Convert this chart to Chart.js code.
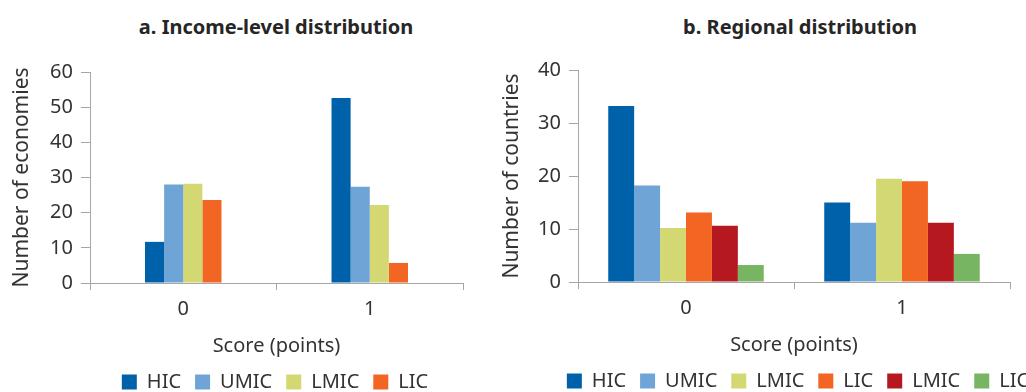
<!DOCTYPE html>
<html>
<head>
<meta charset="utf-8">
<script src="https://cdn.jsdelivr.net/npm/chart.js@4"></script>
<style>
  html, body { margin: 0; padding: 0; background: #fff; overflow: hidden; width: 1026px; height: 392px; position: relative; }
  .title { position: absolute; top: 13px; font: bold 20px "Noto Sans", sans-serif; color: #262626; white-space: nowrap; transform: translateX(-50%); }
  .box { position: absolute; top: 0; }
</style>
</head>
<body>
<div class="title" style="left:276px">a. Income-level distribution</div>
<div class="title" style="left:800px">b. Regional distribution</div>
<div class="box" style="left:0;width:550px;height:402px"><canvas id="left"></canvas></div>
<div class="box" style="left:490px;width:616px;height:401px"><canvas id="right"></canvas></div>
<script>
const scores = ["0", "1"];

// a. income level
const incomeLabels = ["HIC", "UMIC", "LMIC", "LIC"];
const incomeHIC = [11.7, 52.6];
const incomeUMIC = [28.0, 27.4];
const incomeLMIC = [28.2, 22.2];
const incomeLIC = [23.6, 5.7];

// b. regional (legend labels as printed)
const regionLabels = ["HIC", "UMIC", "LMIC", "LIC", "LMIC", "LIC"];
const region1 = [33.2, 15.0];
const region2 = [18.2, 11.2];
const region3 = [10.2, 19.5];
const region4 = [13.1, 19.0];
const region5 = [10.6, 11.2];
const region6 = [3.2, 5.3];

const colors = ["#0061ab", "#6fa5d6", "#d4d872", "#f26522", "#b5191f", "#77b563"];
const axisGrey = "#a6a6a6";
const txt = "#333";
const font = "'Noto Sans', sans-serif";

function makeChart(id, labels, series, yTitle, yMax, yWidth, catPct, padTop, rightWidth) {
  new Chart(document.getElementById(id), {
    type: "bar",
    data: {
      labels: scores,
      datasets: series.map((d, i) => ({
        label: labels[i], data: d, backgroundColor: colors[i],
        barPercentage: 1, categoryPercentage: catPct
      }))
    },
    options: {
      responsive: true,
      maintainAspectRatio: false,
      animation: false,
      layout: { padding: { top: padTop, right: 0, bottom: 0, left: 0 } },
      plugins: {
        tooltip: { enabled: false },
        legend: {
          position: "bottom",
          labels: { color: txt, font: { family: font, size: 20 }, boxWidth: 15, boxHeight: 15, padding: 14 }
        }
      },
      scales: {
        x: {
          grid: { display: true, drawOnChartArea: false, color: axisGrey, tickLength: 7, offset: true },
          border: { color: axisGrey },
          ticks: { color: txt, font: { family: font, size: 20 }, padding: 7 },
          title: { display: true, text: "Score (points)", color: txt, font: { family: font, size: 20 }, padding: { top: 6, bottom: 0 } }
        },
        y: {
          min: 0, max: yMax,
          grid: { display: true, drawOnChartArea: false, color: axisGrey, tickLength: 9 },
          border: { color: axisGrey },
          ticks: { stepSize: 10, color: txt, font: { family: font, size: 20 }, padding: 8 },
          title: { display: true, text: yTitle, color: txt, font: { family: font, size: 21 }, padding: { top: 9, bottom: 0 } },
          afterFit: s => { s.width = yWidth; }
        },
        // empty spacer on the right so the legend stays centred on the plot
        spacer: {
          type: "linear", position: "right",
          grid: { display: false }, border: { display: false }, ticks: { display: false },
          afterFit: s => { s.width = rightWidth; }
        }
      }
    }
  });
}

makeChart("left", incomeLabels, [incomeHIC, incomeUMIC, incomeLMIC, incomeLIC],
  "Number of economies", 60, 90, 0.41, 72, 87);
makeChart("right", regionLabels, [region1, region2, region3, region4, region5, region6],
  "Number of countries", 40, 88, 0.72, 70, 96);
</script>
</body>
</html>
